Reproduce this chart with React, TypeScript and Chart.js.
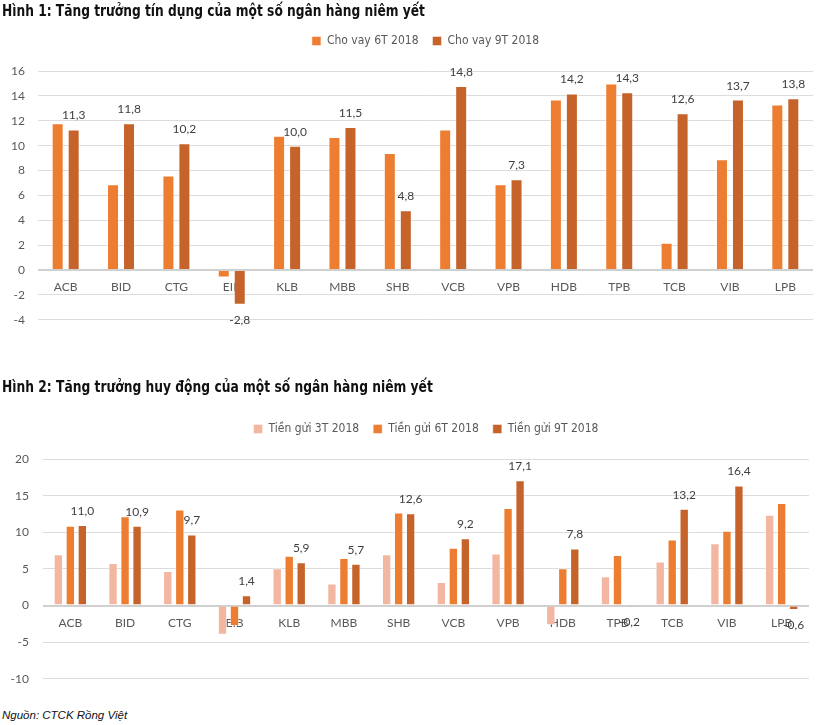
import React, { useEffect, useLayoutEffect, useRef } from "react";
import { Chart, registerables } from "chart.js";

Chart.register(...registerables);

// ---------- DATA ----------
const banks1 = ["ACB", "BID", "CTG", "EIB", "KLB", "MBB", "SHB", "VCB", "VPB", "HDB", "TPB", "TCB", "VIB", "LPB"];
const loan6T = [11.8, 6.9, 7.6, -0.6, 10.8, 10.7, 9.4, 11.3, 6.9, 13.7, 15.0, 2.2, 8.9, 13.3];
const loan9T = [11.3, 11.8, 10.2, -2.8, 10.0, 11.5, 4.8, 14.8, 7.3, 14.2, 14.3, 12.6, 13.7, 13.8];
const yTicks1 = [-4, -2, 0, 2, 4, 6, 8, 10, 12, 14, 16];

const banks2 = ["ACB", "BID", "CTG", "EIB", "KLB", "MBB", "SHB", "VCB", "VPB", "HDB", "TPB", "TCB", "VIB", "LPB"];
const dep3T = [7.0, 5.8, 4.7, -4.0, 5.1, 3.0, 7.0, 3.2, 7.1, -2.7, 4.0, 6.0, 8.5, 12.4];
const dep6T = [10.9, 12.2, 13.1, -2.8, 6.8, 6.5, 12.7, 7.9, 13.3, 5.1, 6.9, 9.0, 10.2, 14.0];
const dep9T = [11.0, 10.9, 9.7, 1.4, 5.9, 5.7, 12.6, 9.2, 17.1, 7.8, -0.2, 13.2, 16.4, -0.6];
const yTicks2 = [-10, -5, 0, 5, 10, 15, 20];

const title1 = "Hình 1: Tăng trưởng tín dụng của một số ngân hàng niêm yết";
const title2 = "Hình 2: Tăng trưởng huy động của một số ngân hàng niêm yết";
const legend1 = ["Cho vay 6T 2018", "Cho vay 9T 2018"];
const legend2 = ["Tiền gửi 3T 2018", "Tiền gửi 6T 2018", "Tiền gửi 9T 2018"];
const sourceText = "Nguồn: CTCK Rồng Việt";

// ---------- STYLE ----------
const C3T = "#F3B7A1";
const C6T = "#ED7D31";
const C9T = "#C5632A";
const NARROW = "'Liberation Sans Narrow', 'DejaVu Sans Condensed', 'Liberation Sans', sans-serif";
const TICKFONT = "Lato, 'Liberation Sans', sans-serif";
const GRAY = "#595959";

const valueLabels = (dsIndex: number) => ({
  id: "valueLabels" + dsIndex,
  afterDatasetsDraw(chart: any) {
    const ctx = chart.ctx;
    const meta = chart.getDatasetMeta(dsIndex);
    const data = chart.data.datasets[dsIndex].data as number[];
    ctx.save();
    ctx.font = `12px ${TICKFONT}`;
    ctx.fillStyle = "#404040";
    ctx.textAlign = "center";
    ctx.textBaseline = "alphabetic";
    meta.data.forEach((el: any, i: number) => {
      const v = data[i];
      const txt = v.toFixed(1).replace(".", ",");
      const y = v >= 0 ? el.y - 10 : el.y + 19;
      ctx.fillText(txt, el.x, y);
    });
    ctx.restore();
  },
});

function makeConfig(opts: {
  labels: string[];
  datasets: any[];
  ticks: number[];
  yWidth: number;
  tickPad: number;
  padding: any;
  labelDs: number;
}) {
  const { labels, datasets, ticks, yWidth, tickPad, padding, labelDs } = opts;
  return {
    type: "bar" as const,
    data: { labels, datasets },
    options: {
      responsive: false,
      animation: false,
      devicePixelRatio: 1,
      layout: { padding },
      plugins: {
        legend: {
          display: true,
          position: "top",
          fullSize: false,
          labels: {
            boxWidth: 9,
            boxHeight: 9,
            padding: 14,
            color: GRAY,
            font: { family: NARROW, size: 12 },
          },
        },
        title: {
          display: true,
          text: "",
          weight: 500,
          padding: 0,
          font: { size: 14, lineHeight: 1 },
        },
        tooltip: { enabled: false },
      },
      scales: {
        x: {
          axis: "x",
          type: "category",
          position: { y: 0 },
          grid: { display: false, drawTicks: false },
          border: { display: false },
          ticks: {
            color: GRAY,
            font: { family: TICKFONT, size: 12 },
            padding: 10,
            maxRotation: 0,
            autoSkip: false,
          },
        },
        y: {
          type: "linear",
          position: "left",
          min: ticks[0],
          max: ticks[ticks.length - 1],
          afterBuildTicks: (s: any) => {
            s.ticks = ticks.map((v) => ({ value: v }));
          },
          afterFit: (s: any) => {
            s.width = yWidth;
          },
          grid: {
            drawTicks: false,
            color: (c: any) => (c.tick && c.tick.value === 0 ? "#D0D0D0" : "#DCDCDC"),
            lineWidth: (c: any) => (c.tick && c.tick.value === 0 ? 2 : 1),
          },
          border: { display: false },
          ticks: {
            color: GRAY,
            font: { family: TICKFONT, size: 12 },
            padding: tickPad,
          },
        },
      },
    },
    plugins: [valueLabels(labelDs)],
  };
}

function BarChart(props: { config: any; top: number; width: number; height: number }) {
  const ref = useRef<HTMLCanvasElement>(null);
  useEffect(() => {
    const chart = new Chart(ref.current as HTMLCanvasElement, props.config);
    return () => chart.destroy();
  }, []);
  return (
    <div style={{ position: "absolute", left: 0, top: props.top, width: props.width, height: props.height }}>
      <canvas ref={ref} width={props.width} height={props.height} style={{ display: "block" }} />
    </div>
  );
}

// Condensed heading: horizontally compressed so it spans the same width as the reference heading
function FitText(props: { text: string; width: number; style: React.CSSProperties }) {
  const ref = useRef<HTMLSpanElement>(null);
  useLayoutEffect(() => {
    const el = ref.current;
    if (!el) return;
    el.style.transform = "none";
    const w = el.getBoundingClientRect().width;
    const k = Math.min(1.3, Math.max(0.6, props.width / w));
    el.style.transform = `scaleX(${k.toFixed(3)})`;
  }, []);
  return (
    <span ref={ref} style={{ ...props.style, transformOrigin: "0 50%" }}>
      {props.text}
    </span>
  );
}

export default function App() {
  const border = "rgba(255,255,255,0.45)";
  const config1 = makeConfig({
    labels: banks1,
    datasets: [
      { label: legend1[0], data: loan6T, backgroundColor: C6T, borderColor: border, borderWidth: 1, categoryPercentage: 0.578, barPercentage: 0.75 },
      { label: legend1[1], data: loan9T, backgroundColor: C9T, borderColor: border, borderWidth: 1, categoryPercentage: 0.578, barPercentage: 0.75 },
    ],
    ticks: yTicks1,
    yWidth: 38,
    tickPad: 13,
    padding: { top: 21, bottom: 19, left: 0, right: 12 },
    labelDs: 1,
  });

  const config2 = makeConfig({
    labels: banks2,
    datasets: [
      { label: legend2[0], data: dep3T, backgroundColor: C3T, borderColor: border, borderWidth: 1, categoryPercentage: 0.658, barPercentage: 0.78 },
      { label: legend2[1], data: dep6T, backgroundColor: C6T, borderColor: border, borderWidth: 1, categoryPercentage: 0.658, barPercentage: 0.78 },
      { label: legend2[2], data: dep9T, backgroundColor: C9T, borderColor: border, borderWidth: 1, categoryPercentage: 0.658, barPercentage: 0.78 },
    ],
    ticks: yTicks2,
    yWidth: 43,
    tickPad: 14,
    padding: { top: 29, bottom: 21, left: 0, right: 16 },
    labelDs: 2,
  });

  const titleStyle: React.CSSProperties = {
    fontFamily: NARROW,
    fontWeight: "bold",
    fontSize: 16,
    lineHeight: "20px",
    color: "#111",
    whiteSpace: "nowrap",
    display: "inline-block",
  };
  const wrap = (top: number): React.CSSProperties => ({ position: "absolute", left: 2, top, zIndex: 2 });

  return (
    <div style={{ position: "absolute", left: 0, top: 0, width: 825, height: 725, background: "#fff", overflow: "hidden" }}>
      <BarChart config={config1} top={0} width={825} height={340} />
      <BarChart config={config2} top={380} width={825} height={320} />
      <div style={wrap(1)}>
        <FitText text={title1} width={423} style={titleStyle} />
      </div>
      <div style={wrap(377)}>
        <FitText text={title2} width={431} style={titleStyle} />
      </div>
      <div
        style={{
          position: "absolute",
          left: 2,
          top: 706,
          fontFamily: "'Liberation Sans', Arial, sans-serif",
          fontStyle: "italic",
          fontSize: 11.5,
          lineHeight: "18px",
          color: "#111",
          whiteSpace: "nowrap",
        }}
      >
        {sourceText}
      </div>
    </div>
  );
}
